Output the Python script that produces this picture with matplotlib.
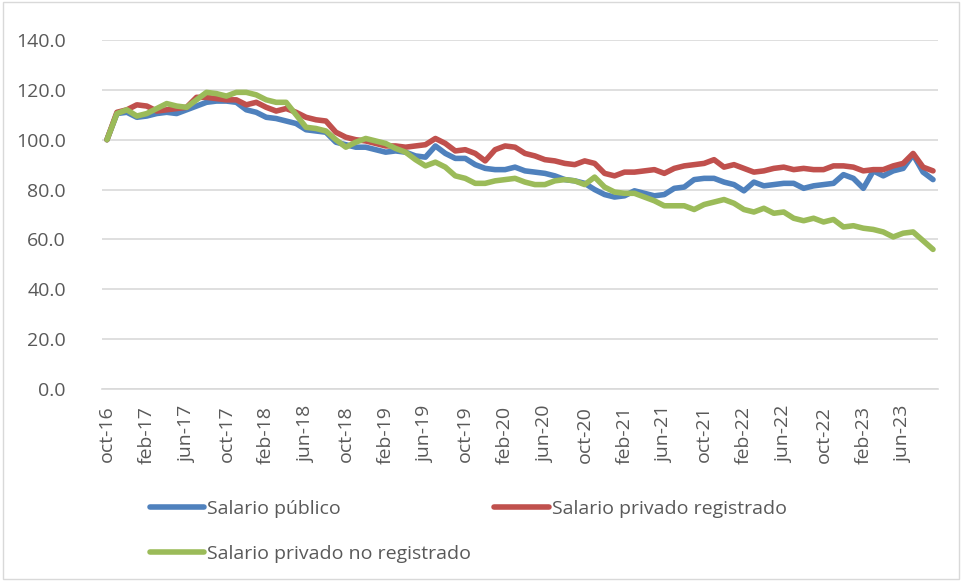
import numpy as np
import matplotlib.pyplot as plt
from matplotlib.patches import Rectangle

# monthly index, base oct-16 = 100, oct-16 .. sep-23
meses = ['ene', 'feb', 'mar', 'abr', 'may', 'jun', 'jul', 'ago', 'sep', 'oct', 'nov', 'dic']
fechas = []
for k in range(84):
    m = (9 + k) % 12
    a = 16 + (9 + k) // 12
    fechas.append(meses[m] + '-' + str(a))

publico = [100, 110.5, 111, 109, 109.5, 110.5, 111, 110.5, 112, 113.5,
           115, 115.5, 115.5, 115, 112, 111, 109, 108.5, 107.5, 106.5,
           104, 103.5, 103, 99, 98, 97, 97, 96, 95, 95.5,
           95, 93.5, 93, 97.5, 94.5, 92.5, 92.5, 90, 88.5, 88,
           88, 89, 87.5, 87, 86.5, 85.5, 84, 83.5, 82.5, 80,
           78, 77, 77.5, 79.5, 78.5, 77.5, 78, 80.5, 81, 84,
           84.5, 84.5, 83, 82, 79.5, 83, 81.5, 82, 82.5, 82.5,
           80.5, 81.5, 82, 82.5, 86, 84.5, 80.5, 87.5, 85.5, 87.5,
           88.5, 94, 87, 84]

privado_reg = [100, 111, 112, 114, 113.5, 111.5, 112, 112.5, 113, 117,
               117, 116.5, 116, 116, 114, 115, 113, 111.5, 112.5, 111,
               109, 108, 107.5, 103, 101, 100, 99.5, 98.5, 97.5, 97.5,
               97, 97.5, 98, 100.5, 98.5, 95.5, 96, 94.5, 91.5, 96,
               97.5, 97, 94.5, 93.5, 92, 91.5, 90.5, 90, 91.5, 90.5,
               86.5, 85.5, 87, 87, 87.5, 88, 86.5, 88.5, 89.5, 90,
               90.5, 92, 89, 90, 88.5, 87, 87.5, 88.5, 89, 88,
               88.5, 88, 88, 89.5, 89.5, 89, 87.5, 88, 88, 89.5,
               90.5, 94.5, 89, 87.5]

privado_no_reg = [100, 110.5, 112, 109.5, 110.5, 112.5, 114.5, 113.5, 113, 116,
                  119, 118.5, 117.5, 119, 119, 118, 116, 115, 115, 110,
                  105, 104.5, 103.5, 100, 97, 99, 100.5, 99.5, 98.5, 96.5,
                  95, 92, 89.5, 91, 89, 85.5, 84.5, 82.5, 82.5, 83.5,
                  84, 84.5, 83, 82, 82, 83.5, 84, 83.5, 82, 85,
                  81, 79, 78.5, 78.5, 77, 75.5, 73.5, 73.5, 73.5, 72,
                  74, 75, 76, 74.5, 72, 71, 72.5, 70.5, 71, 68.5,
                  67.5, 68.5, 67, 68, 65, 65.5, 64.5, 64, 63, 61,
                  62.5, 63, 59.5, 56]

fig = plt.figure(figsize=(9.62, 5.81), dpi=100)
plt.rcParams['font.family'] = ['Open Sans', 'DejaVu Sans']

ax = fig.add_axes([102/962, 1 - 389/581, 836/962, 349/581])
x = np.arange(len(fechas))
l1, = ax.plot(x, publico, color='#4F81BD', lw=4, solid_capstyle='round', label='Salario público')
l2, = ax.plot(x, privado_reg, color='#C0504D', lw=4, solid_capstyle='round', label='Salario privado registrado')
l3, = ax.plot(x, privado_no_reg, color='#9BBB59', lw=4, solid_capstyle='round', label='Salario privado no registrado')

ax.set_xlim(-0.5, len(fechas) - 0.5)
ax.set_ylim(0, 140)
ax.set_yticks(np.arange(0, 141, 20))
ax.set_yticklabels([f'{v:.1f}' for v in np.arange(0, 141, 20)])
ax.set_xticks(x[::4])
ax.set_xticklabels(fechas[::4], rotation=90)
ax.grid(axis='y', color='#D9D9D9', lw=1.2)
ax.set_axisbelow(True)
for s in ['top', 'right', 'left']:
    ax.spines[s].set_visible(False)
ax.spines['bottom'].set_color('#D9D9D9')
ax.spines['bottom'].set_linewidth(1.2)
ax.tick_params(length=0, labelsize=14, colors='#595959')
ax.tick_params(axis='x', pad=12)
ax.tick_params(axis='y', pad=26)

fig.legend([l1, l3, l2], [l1.get_label(), l3.get_label(), l2.get_label()],
           ncol=2, loc='upper left', bbox_to_anchor=(140/962, 1 - 490/581),
           frameon=False, fontsize=14, labelcolor='#595959',
           handlelength=2.8, handletextpad=0.15, columnspacing=1.2, labelspacing=1.4,
           borderpad=0)

fig.patches.append(Rectangle((0.003, 0.003), 0.994, 0.994, transform=fig.transFigure,
                             fill=False, edgecolor='#D9D9D9', lw=1))

fig.savefig('out.png', dpi=100, facecolor='white')
